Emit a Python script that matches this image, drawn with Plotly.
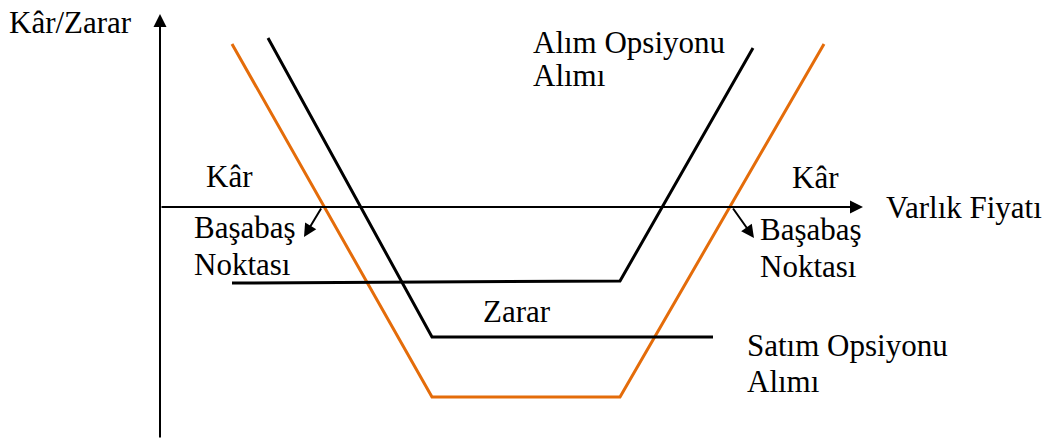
import plotly.graph_objects as go

# Data (x = asset price units, y = profit/loss units; origin at axis crossing)
strangle_x = [72, 272, 460, 664]
strangle_y = [163, -190, -190, 163]
put_x = [108, 272, 553]
put_y = [169, -130, -130]
call_x = [72, 460, 593]
call_y = [-76, -74, 159]

ORANGE = "#E46C0A"
FONT = "Liberation Serif"
FS = 31

fig = go.Figure()
fig.add_trace(go.Scatter(x=strangle_x, y=strangle_y, mode="lines",
                         line=dict(color=ORANGE, width=3), hoverinfo="skip"))
fig.add_trace(go.Scatter(x=put_x, y=put_y, mode="lines",
                         line=dict(color="black", width=3), hoverinfo="skip"))
fig.add_trace(go.Scatter(x=call_x, y=call_y, mode="lines",
                         line=dict(color="black", width=3), hoverinfo="skip"))

anns = []
def arrow(x0, y0, x1, y1, w=2, size=1.2):
    anns.append(dict(x=x1, y=y1, ax=x0, ay=y0, xref="x", yref="y", axref="x", ayref="y",
                     text="", showarrow=True, arrowhead=2, arrowsize=size, arrowwidth=w,
                     arrowcolor="black"))

def label(x, y, t, anchor="left"):
    anns.append(dict(x=x, y=y, xref="x", yref="y", text=t, showarrow=False,
                     xanchor=anchor, yanchor="middle",
                     font=dict(family=FONT, size=FS, color="black")))

# axes arrows
arrow(0, -232, 0, 193, w=2, size=1.3)
arrow(0, 0, 703, 0, w=2, size=1.3)
# breakeven arrows
arrow(162, 0, 144, -30, w=2, size=1.3)
arrow(572, 0, 594, -31, w=2, size=1.3)

label(-153, 185, "Kâr/Zarar")
label(371, 165, "Alım Opsiyonu")
label(371, 132, "Alımı")
label(44, 31, "Kâr")
label(630, 30, "Kâr")
label(724, 0, "Varlık Fiyatı")
label(32, -20, "Başabaş")
label(32, -57, "Noktası")
label(598, -22, "Başabaş")
label(598, -59, "Noktası")
label(321, -104, "Zarar")
label(585, -138, "Satım Opsiyonu")
label(585, -174, "Alımı")

fig.update_layout(
    width=1054, height=441,
    margin=dict(l=0, r=0, t=0, b=0),
    paper_bgcolor="white", plot_bgcolor="white",
    showlegend=False,
    font=dict(family=FONT),
    xaxis=dict(range=[-160, 894], visible=False, fixedrange=True),
    yaxis=dict(range=[-234, 207], visible=False, fixedrange=True),
    annotations=anns,
)
fig.write_html("out.html", config=dict(displayModeBar=False),
               post_script="document.body.style.margin='0';document.body.style.overflow='hidden';")
